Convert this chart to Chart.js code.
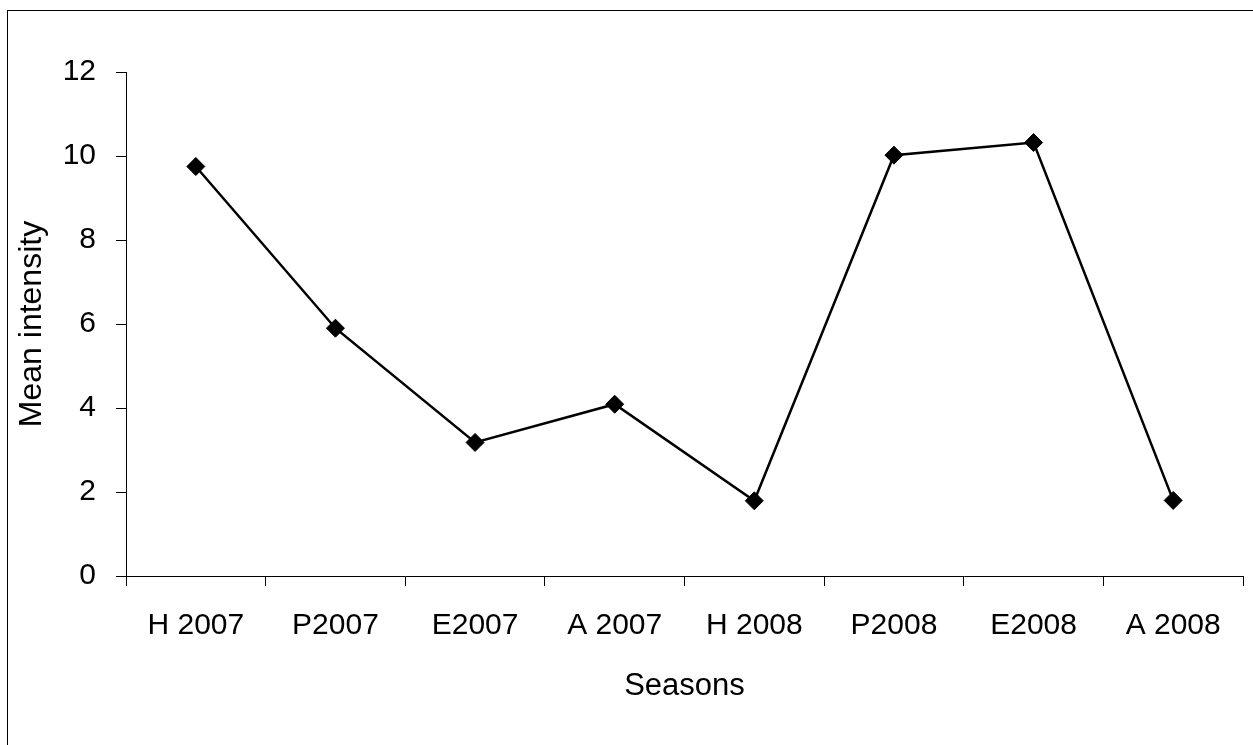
<!DOCTYPE html>
<html>
<head>
<meta charset="utf-8">
<script src="https://cdn.jsdelivr.net/npm/chart.js@4"></script>
<style>
  html, body { margin: 0; padding: 0; background: #fff; }
  #wrap { position: relative; width: 1253px; height: 745px; overflow: hidden; }
  #frame { position: absolute; left: 7px; top: 10px; width: 1300px; height: 800px;
           border-left: 1.5px solid #000; border-top: 1.5px solid #000; pointer-events: none; }
  canvas { position: absolute; left: 0; top: 0; }
</style>
</head>
<body>
<div id="wrap">
  <canvas id="c" width="1253" height="745"></canvas>
  <div id="frame"></div>
</div>
<script>
const categories = ["H 2007", "P2007", "E2007", "A 2007", "H 2008", "P2008", "E2008", "A 2008"];
const meanIntensity = [9.75, 5.9, 3.18, 4.09, 1.79, 10.02, 10.32, 1.8];
const yTicks = [0, 2, 4, 6, 8, 10, 12];

const FONT = "'Liberation Sans', Arial, sans-serif";

new Chart(document.getElementById('c'), {
  type: 'line',
  data: {
    labels: categories,
    datasets: [{
      data: meanIntensity,
      borderColor: '#000',
      backgroundColor: '#000',
      borderWidth: 2.5,
      tension: 0,
      pointStyle: 'rectRot',
      pointRadius: 9,
      pointHoverRadius: 9,
      pointBorderWidth: 1,
      pointBackgroundColor: '#000',
      pointBorderColor: '#000'
    }]
  },
  options: {
    responsive: false,
    devicePixelRatio: 1,
    animation: false,
    layout: { padding: { left: 13, right: 9, top: 72, bottom: 40 } },
    plugins: { legend: { display: false }, tooltip: { enabled: false } },
    scales: {
      x: {
        type: 'category',
        offset: true,
        grid: { offset: true, drawOnChartArea: false, color: '#000', tickLength: 10, lineWidth: 1 },
        border: { display: true, color: '#000', width: 1 },
        ticks: { color: '#000', font: { family: FONT, size: 30 }, padding: 22, maxRotation: 0, autoSkip: false },
        title: { display: true, text: 'Seasons', color: '#000', font: { family: FONT, size: 31 }, padding: 0 },
        afterFit: (s) => { s.height = 129; }
      },
      y: {
        min: 0, max: 12,
        afterBuildTicks: (s) => { s.ticks = yTicks.map(v => ({ value: v })); },
        grid: { drawOnChartArea: false, color: '#000', tickLength: 10, lineWidth: 1 },
        border: { display: true, color: '#000', width: 1 },
        ticks: { color: '#000', font: { family: FONT, size: 30 }, padding: 20 },
        title: { display: true, text: 'Mean intensity', color: '#000', font: { family: FONT, size: 32 }, padding: 0 },
        afterFit: (s) => { s.width = 113; }
      }
    }
  }
});
</script>
</body>
</html>
